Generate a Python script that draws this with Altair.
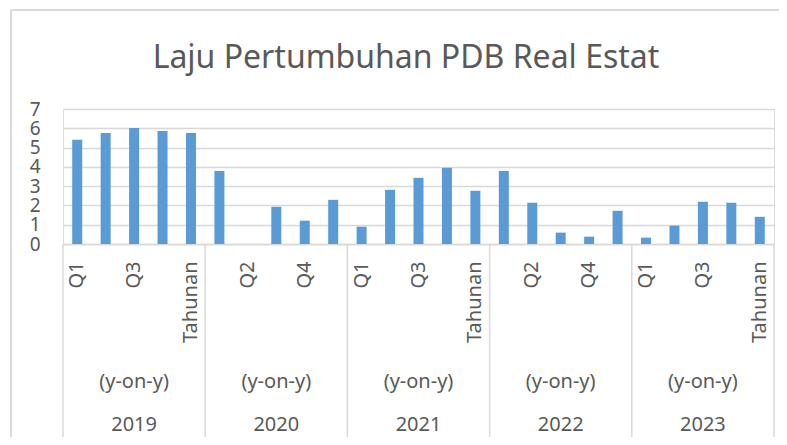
import altair as alt
import pandas as pd

years = ["2019", "2020", "2021", "2022", "2023"]
periods = ["Q1", "Q2", "Q3", "Q4", "Tahunan"]
vals_2019 = [5.40, 5.76, 6.02, 5.86, 5.76]
vals_2020 = [3.79, None, 1.93, 1.21, 2.29]
vals_2021 = [0.90, 2.81, 3.43, 3.95, 2.76]
vals_2022 = [3.79, 2.14, 0.59, 0.38, 1.72]
vals_2023 = [0.33, 0.95, 2.19, 2.14, 1.41]
sub_label = "(y-on-y)"
title_text = "Laju Pertumbuhan PDB Real Estat"
y_ticks = [0, 1, 2, 3, 4, 5, 6, 7]

all_vals = [vals_2019, vals_2020, vals_2021, vals_2022, vals_2023]
rows = []
for y, vs in zip(years, all_vals):
    for p, v in zip(periods, vs):
        rows.append({"key": f"{y} {p}", "year": y, "period": p, "value": v})
df = pd.DataFrame(rows)
keys = list(df["key"])
shown = keys[::2]

W, H = 711, 135
TXT = "#595959"
GRID = "#D9D9D9"
FONT = "Noto Sans"

xscale = alt.Scale(domain=keys, paddingInner=0, paddingOuter=0)

bars = alt.Chart(df).mark_bar(size=10, color="#5B9BD5").encode(
    x=alt.X("key:N", scale=xscale, sort=keys,
            axis=alt.Axis(values=shown, labelExpr="split(datum.value, ' ')[1]",
                          title=None, labelAngle=270, labelAlign="right",
                          labelBaseline="middle", ticks=False, labelPadding=17,
                          labelFontSize=20, labelFont=FONT, labelColor=TXT,
                          labelOverlap=False,
                          domainColor=GRID, domainWidth=1.5, grid=False)),
    y=alt.Y("value:Q", scale=alt.Scale(domain=[0, 7], nice=False),
            axis=alt.Axis(values=y_ticks, title=None, domain=False, ticks=False,
                          labelPadding=23, labelFontSize=19, labelFont=FONT,
                          labelOverlap=False, labelColor=TXT,
                          gridColor=GRID, gridWidth=1.3)),
)

year_df = pd.DataFrame({"year": years,
                        "start": [f"{y} {periods[0]}" for y in years],
                        "mid": [f"{y} {periods[2]}" for y in years],
                        "sub": [sub_label] * len(years)})
end_df = pd.DataFrame({"end": [keys[-1]], "title": [title_text]})

sep_start = alt.Chart(year_df).mark_rule(color=GRID, strokeWidth=1.5).encode(
    x=alt.X("start:N", scale=xscale, sort=keys, bandPosition=0),
    y=alt.value(H), y2=alt.value(H + 196))
sep_end = alt.Chart(end_df).mark_rule(color=GRID, strokeWidth=1.5).encode(
    x=alt.X("end:N", scale=xscale, sort=keys, bandPosition=1),
    y=alt.value(H), y2=alt.value(H + 196))

sub_text = alt.Chart(year_df).mark_text(fontSize=20, font=FONT, color=TXT,
                                        baseline="middle").encode(
    x=alt.X("mid:N", scale=xscale, sort=keys), y=alt.value(H + 138), text="sub:N")
year_text = alt.Chart(year_df).mark_text(fontSize=20, font=FONT, color=TXT,
                                         baseline="middle").encode(
    x=alt.X("mid:N", scale=xscale, sort=keys), y=alt.value(H + 181), text="year:N")

title_mark = alt.Chart(end_df).mark_text(fontSize=32, font=FONT, color=TXT,
                                         baseline="alphabetic", align="center").encode(
    x=alt.value(343), y=alt.value(-41), text="title:N")

frame_left = alt.Chart(end_df).mark_rule(color=GRID, strokeWidth=2).encode(
    x=alt.value(-52), y=alt.value(-99), y2=alt.value(H + 205))
frame_top = alt.Chart(end_df).mark_rule(color=GRID, strokeWidth=2).encode(
    x=alt.value(-52), x2=alt.value(W + 10), y=alt.value(-99))

chart = alt.layer(bars, sep_start, sep_end, sub_text, year_text, title_mark,
                  frame_left, frame_top).properties(
    width=W, height=H,
    autosize=alt.AutoSizeParams(type="none"),
    padding={"left": 55, "top": 101, "right": 5, "bottom": 193},
).configure_view(stroke=None).configure(background="white")

chart.save("out.html", embed_options={"renderer": "svg", "actions": False})
